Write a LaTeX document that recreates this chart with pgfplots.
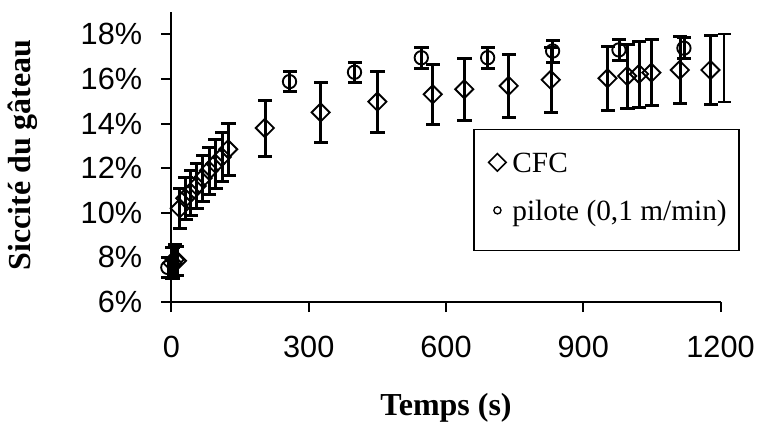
\documentclass[border=0pt]{standalone}
\usepackage{pgfplots}
\pgfplotsset{compat=1.18}
\usepackage{fontspec}
\setmainfont{Liberation Serif}
\newfontfamily\arial{Liberation Sans}

% CFC: temps (s), siccite (%), erreur (%)
\pgfplotstableread{
x y ey
2 7.75 0.70
7 7.90 0.70
12 7.85 0.65
18 10.20 0.90
30 10.65 0.95
42 10.90 1.00
55 11.20 1.00
68 11.55 1.05
82 11.90 1.05
96 12.20 1.10
110 12.50 1.10
124 12.85 1.15
204 13.80 1.25
326 14.50 1.35
450 14.98 1.35
571 15.31 1.35
640 15.54 1.39
737 15.69 1.40
829 15.96 1.45
953 16.03 1.43
996 16.13 1.44
1022 16.22 1.47
1049 16.28 1.48
1111 16.40 1.50
1178 16.40 1.55
}\cfc

% pilote (0,1 m/min)
\pgfplotstableread{
x y ey
-8 7.55 0.45
258 15.88 0.45
400 16.30 0.45
546 16.95 0.45
691 16.95 0.48
833 17.25 0.50
978 17.30 0.46
1120 17.38 0.47
}\pilote

\begin{document}
\begin{tikzpicture}
\pgfplotsset{
  barre/.style={error bars/.cd, y dir=both, y explicit,
    draw error bar/.code 2 args={
      \path ##1 coordinate (eba) ##2 coordinate (ebb);
      \fill[black] ([xshift=-0.75pt]eba) rectangle ([xshift=0.75pt]ebb);
      \fill[black] ([xshift=-5pt,yshift=-0.75pt]ebb) rectangle ([xshift=5pt,yshift=0.75pt]ebb);}},
}
\begin{axis}[
  at={(0,0)}, anchor=south west,
  scale only axis, width=411.75pt, height=217.5pt,
  xmin=0, xmax=1200, ymin=6, ymax=19,
  xtick={0,300,...,1200}, ytick={6,8,...,18},
  axis lines=left, axis line style={-, line width=1.5pt},
  tick align=outside, major tick length=7.5pt,
  tick style={line width=1.5pt, black},
  clip=false,
  ticklabel style={font=\arial\fontsize{23}{23}\selectfont},
  /pgf/number format/assume math mode=true,
  /pgf/number format/1000 sep={},
  yticklabel={\pgfmathprintnumber{\tick}\%},
  xticklabel style={yshift=-14.5pt},
  yticklabel style={xshift=-11pt},
  every axis x label/.style={at={(axis description cs:0.5,-0.392)}, anchor=base},
  every axis y label/.style={at={(axis description cs:-0.27,0.507)}, rotate=90, anchor=center},
  label style={font=\bfseries\fontsize{24}{24}\selectfont},
  xlabel={Temps (s)},
  ylabel={Siccité du gâteau},
  legend style={at={(axis description cs:0.549,0.597)}, anchor=north west,
    draw=black, line width=1.2pt, font=\fontsize{22}{22}\selectfont,
    inner xsep=9.2pt, inner ysep=14pt, row sep=9.5pt, column sep=0pt,
    nodes={inner sep=0pt, text height=18pt, text depth=8.5pt}},
  legend cell align=left,
]
\addplot[only marks, black, line width=1.4pt, mark=square, mark size=4.8pt,
  mark options={rotate=45, fill=none},
  legend image code/.code={
    \path[draw=none, fill=none] (0pt,-13.25pt) rectangle (19.8pt,13.25pt);
    \draw[line width=1.2pt, fill=none, rotate around={45:(8.6pt,2.75pt)}]
      (3.95pt,-1.9pt) rectangle (13.25pt,7.4pt);},
  barre]
  table[x=x, y=y, y error=ey] {\cfc};
\addlegendentry{CFC}
\addplot[only marks, black, line width=1.4pt, mark=o, mark size=5pt,
  legend image code/.code={
    \path[draw=none, fill=none] (0pt,-13.25pt) rectangle (19.8pt,13.25pt);
    \draw[line width=1pt, fill=none] (8.6pt,2.75pt) circle (2.7pt);},
  barre]
  table[x=x, y=y, y error=ey] {\pilote};
\addlegendentry{pilote (0,1 m/min)}
% barre d'erreur seule au bord droit
\addplot[forget plot, draw=none, mark=none, barre]
  coordinates {(1208,16.5) +- (0,1.52)};
\end{axis}
\pgfresetboundingbox
\useasboundingbox (-128.6pt,-90.75pt) rectangle (439.1pt,226.5pt);
\end{tikzpicture}
\end{document}
